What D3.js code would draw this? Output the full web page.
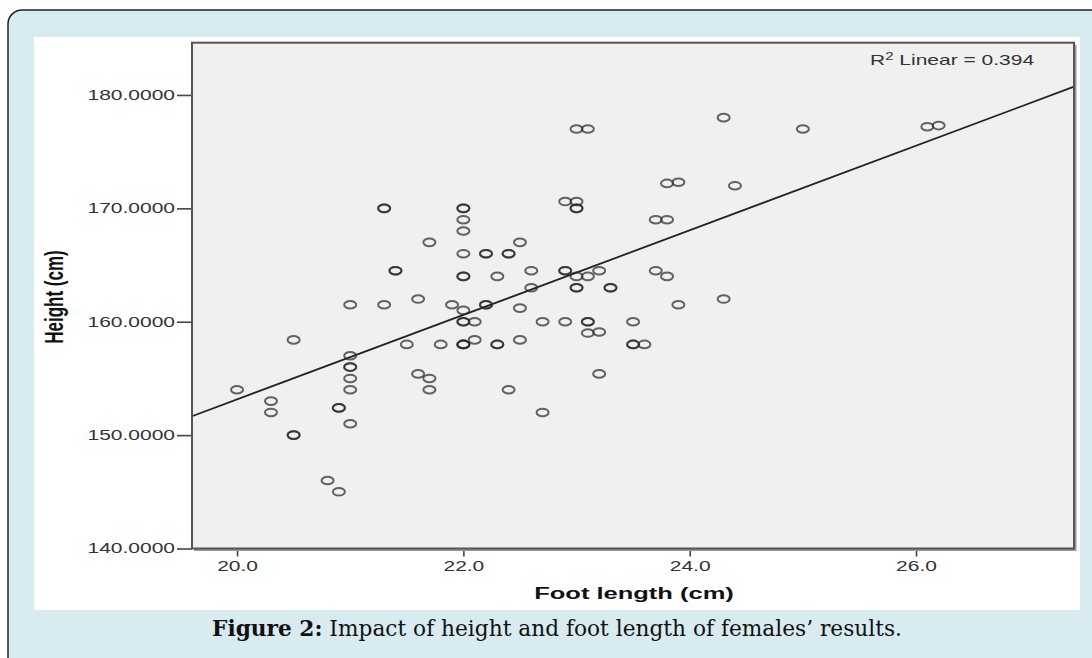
<!DOCTYPE html>
<html>
<head>
<meta charset="utf-8">
<script src="https://cdn.jsdelivr.net/npm/d3@7"></script>
<style>
  html, body { margin: 0; padding: 0; background: #fff; overflow: hidden; }
  svg { display: block; }
</style>
</head>
<body>
<script>
// foot length (cm) and height (cm); repeated pairs are stacked markers
const footLength = [
  20.0, 20.3, 20.3, 20.5, 20.5, 20.5, 20.8, 20.9, 20.9, 20.9,
  21.0, 21.0, 21.0, 21.0, 21.0, 21.0, 21.0,
  21.3, 21.3, 21.3, 21.4, 21.4, 21.5, 21.6, 21.6, 21.7, 21.7, 21.7, 21.8, 21.9,
  22.0, 22.0, 22.0, 22.0, 22.0, 22.0, 22.0, 22.0, 22.0, 22.0, 22.0, 22.0, 22.0,
  22.1, 22.1, 22.2, 22.2, 22.2, 22.2, 22.3, 22.3, 22.3, 22.4, 22.4, 22.4,
  22.5, 22.5, 22.5, 22.6, 22.6, 22.7, 22.7, 22.9, 22.9, 22.9, 22.9,
  23.0, 23.0, 23.0, 23.0, 23.0, 23.0, 23.0, 23.1, 23.1, 23.1, 23.1, 23.1,
  23.2, 23.2, 23.2, 23.3, 23.3, 23.5, 23.5, 23.5, 23.6,
  23.7, 23.7, 23.8, 23.8, 23.8, 23.9, 23.9, 24.3, 24.3, 24.4, 25.0, 26.1, 26.2
];
const height = [
  154.0, 153.0, 152.0, 158.4, 150.0, 150.0, 146.0, 145.0, 152.4, 152.4,
  161.5, 157.0, 156.0, 156.0, 155.0, 154.0, 151.0,
  170.0, 170.0, 161.5, 164.5, 164.5, 158.0, 162.0, 155.4, 167.0, 155.0, 154.0, 158.0, 161.5,
  170.0, 170.0, 169.0, 168.0, 166.0, 164.0, 164.0, 161.0, 160.0, 160.0, 158.0, 158.0, 158.0,
  160.0, 158.4, 166.0, 166.0, 161.5, 161.5, 164.0, 158.0, 158.0, 166.0, 166.0, 154.0,
  167.0, 161.2, 158.4, 164.5, 163.0, 160.0, 152.0, 170.6, 164.5, 164.5, 160.0,
  177.0, 170.6, 170.0, 170.0, 164.0, 163.0, 163.0, 177.0, 164.0, 160.0, 160.0, 159.0,
  164.5, 159.1, 155.4, 163.0, 163.0, 160.0, 158.0, 158.0, 158.0,
  169.0, 164.5, 172.2, 169.0, 164.0, 172.3, 161.5, 178.0, 162.0, 172.0, 177.0, 177.2, 177.3
];
const xTicks = [20, 22, 24, 26];
const yTicks = [140, 150, 160, 170, 180];
// linear fit shown on the chart
const fitIntercept = 78.57;
const fitSlope = 3.729;
const rSquared = 0.394;

const W = 1092, H = 658;
const plot = { left: 192, right: 1074, top: 42.7, bottom: 548.5 };
const sx = 1.5; // the source image is stretched horizontally

const svg = d3.select('body').append('svg')
  .attr('width', W)
  .attr('height', H);

// page frame
svg.append('rect')
  .attr('x', 8).attr('y', 10)
  .attr('width', 1120).attr('height', 720)
  .attr('rx', 14)
  .attr('fill', '#d7ebf1')
  .attr('stroke', '#222')
  .attr('stroke-width', 1.5);

svg.append('rect')
  .attr('x', 34).attr('y', 37)
  .attr('width', 1046).attr('height', 573)
  .attr('fill', '#fff');

const x = d3.scaleLinear().domain([19.602, 27.396]).range([plot.left, plot.right]);
const y = d3.scaleLinear().domain([140, 184.61]).range([plot.bottom, plot.top]);

svg.append('rect')
  .attr('x', plot.left).attr('y', plot.top)
  .attr('width', plot.right - plot.left)
  .attr('height', plot.bottom - plot.top)
  .attr('fill', '#f0f0f0');

// axes
const yAxis = svg.append('g')
  .attr('transform', `translate(${plot.left},0)`)
  .call(d3.axisLeft(y).tickValues(yTicks).tickFormat(d3.format('.4f')).tickSize(15).tickSizeOuter(0));

const xAxis = svg.append('g')
  .attr('transform', `translate(0,${plot.bottom})`)
  .call(d3.axisBottom(x).tickValues(xTicks).tickFormat(d3.format('.1f')).tickSize(8).tickSizeOuter(0));

[yAxis, xAxis].forEach(g => {
  g.select('.domain').remove();
  g.selectAll('line').attr('stroke', '#444').attr('stroke-width', 1.6);
  g.selectAll('text')
    .attr('fill', '#333')
    .style('font-family', 'Liberation Sans, Arial, sans-serif')
    .style('font-size', '14px');
});

yAxis.selectAll('text')
  .attr('x', -17 / sx)
  .attr('transform', `scale(${sx},1)`);

xAxis.selectAll('text')
  .attr('y', 13)
  .attr('transform', `scale(${sx},1)`);

// regression line
const fit = (v) => fitIntercept + fitSlope * v;
const xd = x.domain();
svg.append('line')
  .attr('x1', x(xd[0])).attr('y1', y(fit(xd[0])))
  .attr('x2', x(xd[1])).attr('y2', y(fit(xd[1])))
  .attr('stroke', '#222')
  .attr('stroke-width', 1.8);

// points
svg.append('g')
  .selectAll('ellipse')
  .data(footLength.map((f, i) => ({ f: f, h: height[i] })))
  .enter()
  .append('ellipse')
  .attr('cx', d => x(d.f))
  .attr('cy', d => y(d.h))
  .attr('rx', 6)
  .attr('ry', 3.8)
  .attr('fill', 'none')
  .attr('stroke', '#2a2a2a')
  .attr('stroke-opacity', 0.72)
  .attr('stroke-width', 2);

// plot frame with the slight shadow at right and bottom
svg.append('path')
  .attr('d', `M${plot.right + 1.5},${plot.top + 2}V${plot.bottom + 1.5}H${plot.left + 2}`)
  .attr('fill', 'none')
  .attr('stroke', '#999')
  .attr('stroke-width', 2);
svg.append('rect')
  .attr('x', plot.left).attr('y', plot.top)
  .attr('width', plot.right - plot.left)
  .attr('height', plot.bottom - plot.top)
  .attr('fill', 'none')
  .attr('stroke', '#555')
  .attr('stroke-width', 2);

// R² label
const r2 = svg.append('text')
  .attr('transform', `translate(870,65) scale(${sx},1)`)
  .attr('fill', '#333')
  .style('font-family', 'Liberation Sans, Arial, sans-serif')
  .style('font-size', '14px');
r2.append('tspan').text('R');
r2.append('tspan').attr('dy', -5).style('font-size', '10px').text('2');
r2.append('tspan').attr('dy', 5).text(` Linear = ${rSquared}`);

// axis titles
svg.append('text')
  .attr('transform', `translate(634,599) scale(${sx},1)`)
  .attr('text-anchor', 'middle')
  .attr('fill', '#111')
  .style('font-family', 'Liberation Sans, Arial, sans-serif')
  .style('font-weight', 'bold')
  .style('font-size', '17px')
  .text('Foot length (cm)');

svg.append('text')
  .attr('transform', `translate(63,297) scale(${sx},1) rotate(-90)`)
  .attr('text-anchor', 'middle')
  .attr('fill', '#111')
  .style('font-family', 'Liberation Sans, Arial, sans-serif')
  .style('font-weight', 'bold')
  .style('font-size', '17px')
  .text('Height (cm)');

// caption
const caption = svg.append('text')
  .attr('x', 557).attr('y', 636)
  .attr('text-anchor', 'middle')
  .attr('textLength', 690)
  .attr('lengthAdjust', 'spacingAndGlyphs')
  .attr('fill', '#111')
  .style('font-family', 'DejaVu Serif, serif')
  .style('font-size', '23px');
caption.append('tspan').style('font-weight', 'bold').text('Figure 2:');
caption.append('tspan').text(' Impact of height and foot length of females\u2019 results.');
</script>
</body>
</html>
